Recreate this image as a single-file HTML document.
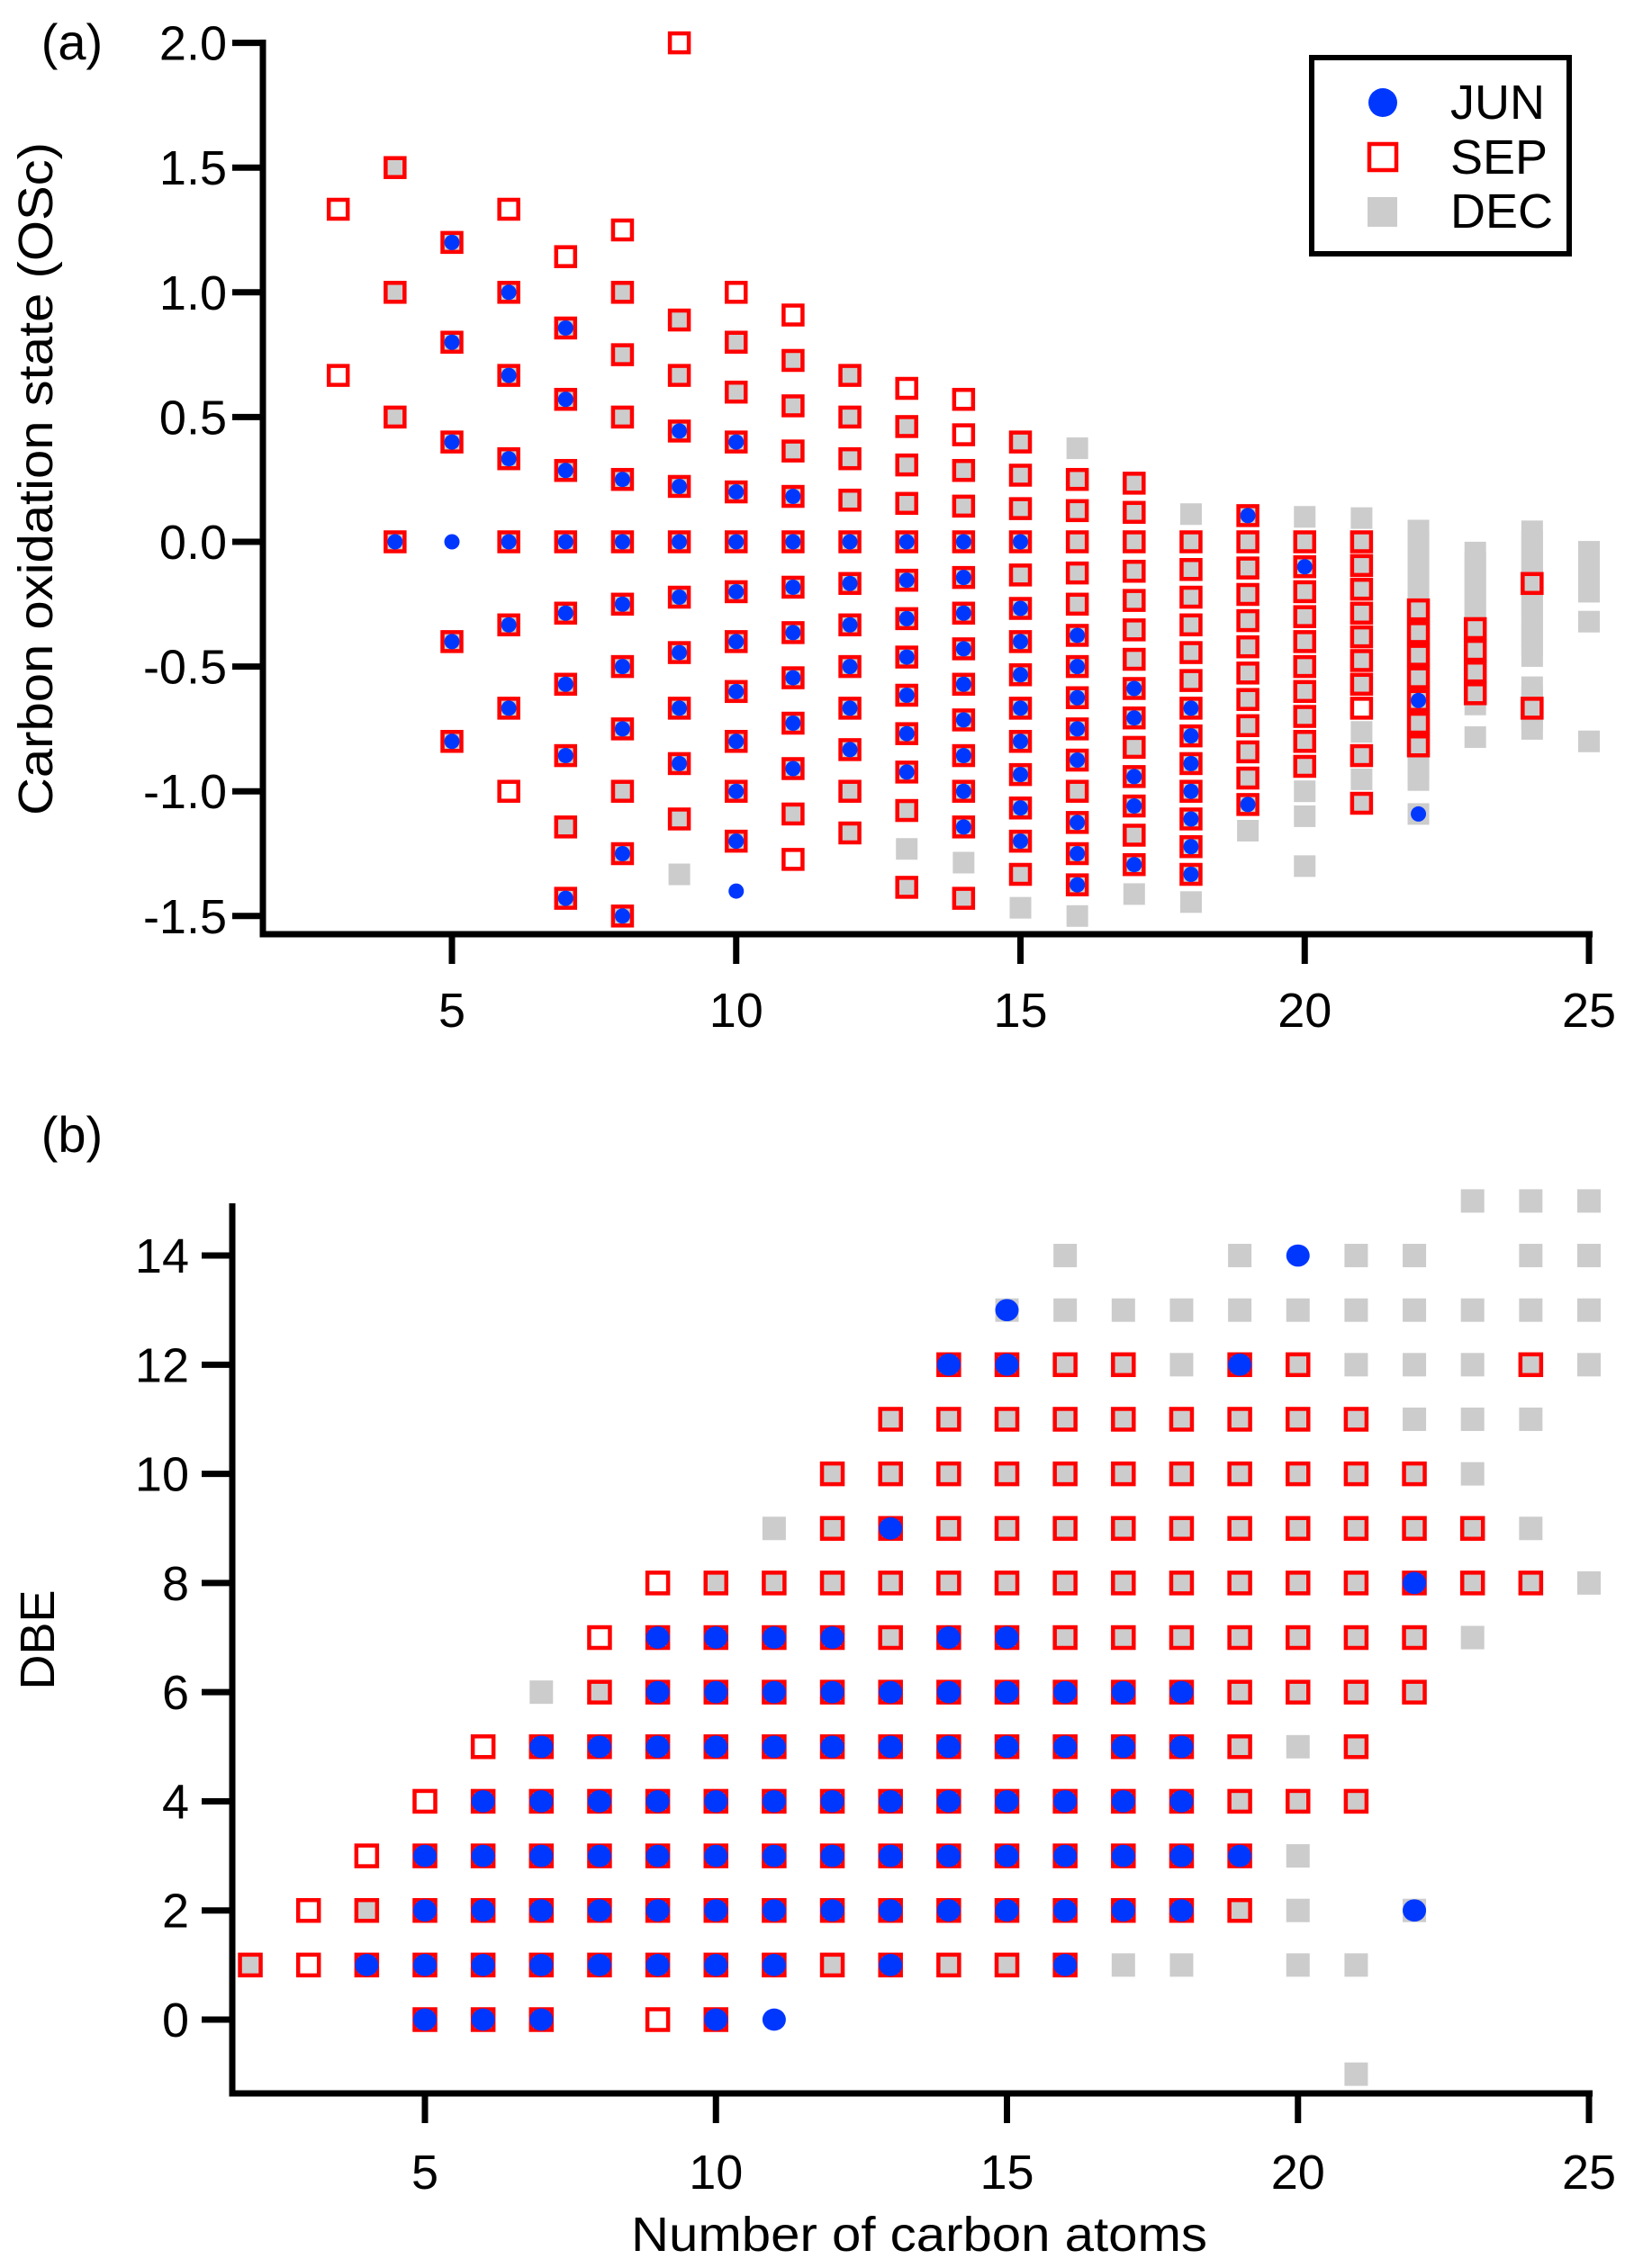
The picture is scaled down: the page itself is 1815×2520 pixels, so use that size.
<!DOCTYPE html>
<html><head><meta charset="utf-8"><style>
html,body{margin:0;padding:0;background:#fff}
svg{display:block}
text{font-family:"Liberation Sans",Arial,sans-serif;fill:#000}
</style></head><body>
<svg id="chart" xmlns="http://www.w3.org/2000/svg" width="1815" height="2520" viewBox="0 0 1815 2520">
<g id="pa"></g>
<g id="pb"></g>
</svg>
<script>
// ---------- Panel (a) data: [carbon number, OSc] ----------
const junA = [[4,0],
[5,1.2],[5,.8],[5,.4],[5,0],[5,-.4],[5,-.8],
[6,1],[6,.667],[6,.333],[6,0],[6,-.333],[6,-.667],
[7,.857],[7,.571],[7,.286],[7,0],[7,-.286],[7,-.571],[7,-.857],[7,-1.429],
[8,.25],[8,0],[8,-.25],[8,-.5],[8,-.75],[8,-1.25],[8,-1.5],
[9,.444],[9,.222],[9,0],[9,-.222],[9,-.444],[9,-.667],[9,-.889],
[10,.4],[10,.2],[10,0],[10,-.2],[10,-.4],[10,-.6],[10,-.8],[10,-1],[10,-1.2],[10,-1.4],
[11,.182],[11,0],[11,-.182],[11,-.364],[11,-.545],[11,-.727],[11,-.909],
[12,0],[12,-.167],[12,-.333],[12,-.5],[12,-.667],[12,-.833],
[13,0],[13,-.154],[13,-.308],[13,-.462],[13,-.615],[13,-.769],[13,-.923],
[14,0],[14,-.143],[14,-.286],[14,-.429],[14,-.571],[14,-.714],[14,-.857],[14,-1],[14,-1.143],
[15,0],[15,-.267],[15,-.4],[15,-.533],[15,-.667],[15,-.8],[15,-.933],[15,-1.067],[15,-1.2],
[16,-.375],[16,-.5],[16,-.625],[16,-.75],[16,-.875],[16,-1.125],[16,-1.25],[16,-1.375],
[17,-.588],[17,-.706],[17,-.941],[17,-1.059],[17,-1.294],
[18,-.667],[18,-.778],[18,-.889],[18,-1],[18,-1.111],[18,-1.222],[18,-1.333],
[19,.105],[19,-1.053],[20,-.1],[22,-.636],[22,-1.091]];
const sepA = [[3,1.333],[3,.667],
[4,1.5],[4,1],[4,.5],[4,0],
[5,1.2],[5,.8],[5,.4],[5,-.4],[5,-.8],
[6,1.333],[6,1],[6,.667],[6,.333],[6,0],[6,-.333],[6,-.667],[6,-1],
[7,1.143],[7,.857],[7,.571],[7,.286],[7,0],[7,-.286],[7,-.571],[7,-.857],[7,-1.143],[7,-1.429],
[8,1.25],[8,1],[8,.75],[8,.5],[8,.25],[8,0],[8,-.25],[8,-.5],[8,-.75],[8,-1],[8,-1.25],[8,-1.5],
[9,2],[9,.889],[9,.667],[9,.444],[9,.222],[9,0],[9,-.222],[9,-.444],[9,-.667],[9,-.889],[9,-1.111],
[10,1],[10,.8],[10,.6],[10,.4],[10,.2],[10,0],[10,-.2],[10,-.4],[10,-.6],[10,-.8],[10,-1],[10,-1.2],
[11,.909],[11,.727],[11,.545],[11,.364],[11,.182],[11,0],[11,-.182],[11,-.364],[11,-.545],[11,-.727],[11,-.909],[11,-1.091],[11,-1.273],
[12,.667],[12,.5],[12,.333],[12,.167],[12,0],[12,-.167],[12,-.333],[12,-.5],[12,-.667],[12,-.833],[12,-1],[12,-1.167],
[13,.615],[13,.462],[13,.308],[13,.154],[13,0],[13,-.154],[13,-.308],[13,-.462],[13,-.615],[13,-.769],[13,-.923],[13,-1.077],[13,-1.385],
[14,.571],[14,.429],[14,.286],[14,.143],[14,0],[14,-.143],[14,-.286],[14,-.429],[14,-.571],[14,-.714],[14,-.857],[14,-1],[14,-1.143],[14,-1.429],
[15,.4],[15,.267],[15,.133],[15,0],[15,-.133],[15,-.267],[15,-.4],[15,-.533],[15,-.667],[15,-.8],[15,-.933],[15,-1.067],[15,-1.2],[15,-1.333],
[16,.25],[16,.125],[16,0],[16,-.125],[16,-.25],[16,-.375],[16,-.5],[16,-.625],[16,-.75],[16,-.875],[16,-1],[16,-1.125],[16,-1.25],[16,-1.375],
[17,.235],[17,.118],[17,0],[17,-.118],[17,-.235],[17,-.353],[17,-.471],[17,-.588],[17,-.706],[17,-.824],[17,-.941],[17,-1.059],[17,-1.176],[17,-1.294],
[18,0],[18,-.111],[18,-.222],[18,-.333],[18,-.444],[18,-.556],[18,-.667],[18,-.778],[18,-.889],[18,-1],[18,-1.111],[18,-1.222],[18,-1.333],
[19,.105],[19,0],[19,-.105],[19,-.211],[19,-.316],[19,-.421],[19,-.526],[19,-.632],[19,-.737],[19,-.842],[19,-.947],[19,-1.053],
[20,0],[20,-.1],[20,-.2],[20,-.3],[20,-.4],[20,-.5],[20,-.6],[20,-.7],[20,-.8],[20,-.9],
[21,0],[21,-.095],[21,-.19],[21,-.286],[21,-.381],[21,-.476],[21,-.571],[21,-.667],[21,-.857],[21,-1.048],
[22,-.273],[22,-.364],[22,-.455],[22,-.545],[22,-.636],[22,-.727],[22,-.818],
[23,-.348],[23,-.435],[23,-.522],[23,-.609],
[24,-.167],[24,-.667]];
const decA = [[4,1.5],[4,1],[4,.5],[4,0],
[5,1.2],[5,.8],[5,.4],[5,-.4],[5,-.8],
[6,1],[6,.667],[6,.333],[6,0],[6,-.333],[6,-.667],
[7,.857],[7,.571],[7,.286],[7,0],[7,-.286],[7,-.571],[7,-.857],[7,-1.143],[7,-1.429],
[8,1],[8,.75],[8,.5],[8,.25],[8,0],[8,-.25],[8,-.5],[8,-.75],[8,-1],[8,-1.25],[8,-1.5],
[9,.889],[9,.667],[9,.444],[9,.222],[9,0],[9,-.222],[9,-.444],[9,-.667],[9,-.889],[9,-1.111],[9,-1.333],
[10,.8],[10,.6],[10,.4],[10,.2],[10,0],[10,-.2],[10,-.4],[10,-.6],[10,-.8],[10,-1],[10,-1.2],
[11,.727],[11,.545],[11,.364],[11,.182],[11,0],[11,-.182],[11,-.364],[11,-.545],[11,-.727],[11,-.909],[11,-1.091],
[12,.667],[12,.5],[12,.333],[12,.167],[12,0],[12,-.167],[12,-.333],[12,-.5],[12,-.667],[12,-.833],[12,-1],[12,-1.167],
[13,.462],[13,.308],[13,.154],[13,0],[13,-.154],[13,-.308],[13,-.462],[13,-.615],[13,-.769],[13,-.923],[13,-1.077],[13,-1.231],[13,-1.385],
[14,.286],[14,.143],[14,0],[14,-.143],[14,-.286],[14,-.429],[14,-.571],[14,-.714],[14,-.857],[14,-1],[14,-1.143],[14,-1.286],[14,-1.429],
[15,.4],[15,.267],[15,.133],[15,0],[15,-.133],[15,-.267],[15,-.4],[15,-.533],[15,-.667],[15,-.8],[15,-.933],[15,-1.067],[15,-1.2],[15,-1.333],[15,-1.467],
[16,.375],[16,.25],[16,.125],[16,0],[16,-.125],[16,-.25],[16,-.375],[16,-.5],[16,-.625],[16,-.75],[16,-.875],[16,-1],[16,-1.125],[16,-1.25],[16,-1.375],[16,-1.5],
[17,.235],[17,.118],[17,0],[17,-.118],[17,-.235],[17,-.353],[17,-.471],[17,-.588],[17,-.706],[17,-.824],[17,-.941],[17,-1.059],[17,-1.176],[17,-1.294],[17,-1.412],
[18,.111],[18,0],[18,-.111],[18,-.222],[18,-.333],[18,-.444],[18,-.556],[18,-.667],[18,-.778],[18,-.889],[18,-1],[18,-1.111],[18,-1.222],[18,-1.333],[18,-1.444],
[19,.105],[19,0],[19,-.105],[19,-.211],[19,-.316],[19,-.421],[19,-.526],[19,-.632],[19,-.737],[19,-.842],[19,-.947],[19,-1.053],[19,-1.158],
[20,.1],[20,0],[20,-.1],[20,-.2],[20,-.3],[20,-.4],[20,-.5],[20,-.6],[20,-.7],[20,-.8],[20,-.9],[20,-1],[20,-1.1],[20,-1.3],
[21,.095],[21,0],[21,-.095],[21,-.19],[21,-.286],[21,-.381],[21,-.476],[21,-.571],[21,-.762],[21,-.857],[21,-.952],[21,-1.048],
[22,.045],[22,0],[22,-.045],[22,-.091],[22,-.136],[22,-.182],[22,-.227],[22,-.273],[22,-.318],[22,-.364],[22,-.409],[22,-.455],[22,-.5],[22,-.545],[22,-.591],[22,-.636],[22,-.682],[22,-.727],[22,-.773],[22,-.818],[22,-.864],[22,-.909],[22,-.955],[22,-1.091],
[23,-.043],[23,-.087],[23,-.13],[23,-.174],[23,-.217],[23,-.261],[23,-.304],[23,-.348],[23,-.391],[23,-.435],[23,-.478],[23,-.522],[23,-.565],[23,-.609],[23,-.652],[23,-.783],
[24,.042],[24,0],[24,-.042],[24,-.083],[24,-.125],[24,-.208],[24,-.25],[24,-.292],[24,-.333],[24,-.375],[24,-.417],[24,-.458],[24,-.583],[24,-.625],[24,-.667],[24,-.708],[24,-.75],
[25,-.04],[25,-.08],[25,-.12],[25,-.16],[25,-.2],[25,-.32],[25,-.8]];
const xTicksA = [5,10,15,20,25];
const yTicksA = [2.0,1.5,1.0,0.5,0.0,-0.5,-1.0,-1.5];

// ---------- Panel (b) data: [carbon number, DBE] ----------
const junB = [[4,1],[5,3],[5,2],[5,1],[5,0],[6,4],[6,3],[6,2],[6,1],[6,0],
[7,5],[7,4],[7,3],[7,2],[7,1],[7,0],[8,5],[8,4],[8,3],[8,2],[8,1],
[9,7],[9,6],[9,5],[9,4],[9,3],[9,2],[9,1],
[10,7],[10,6],[10,5],[10,4],[10,3],[10,2],[10,1],[10,0],
[11,7],[11,6],[11,5],[11,4],[11,3],[11,2],[11,1],[11,0],
[12,7],[12,6],[12,5],[12,4],[12,3],[12,2],
[13,9],[13,6],[13,5],[13,4],[13,3],[13,2],[13,1],
[14,12],[14,7],[14,6],[14,5],[14,4],[14,3],[14,2],
[15,13],[15,12],[15,7],[15,6],[15,5],[15,4],[15,3],[15,2],
[16,6],[16,5],[16,4],[16,3],[16,2],[16,1],
[17,6],[17,5],[17,4],[17,3],[17,2],[18,6],[18,5],[18,4],[18,3],[18,2],
[19,12],[19,3],[20,14],[22,8],[22,2]];
const sepB = [[2,1],[3,2],[3,1],[4,3],[4,2],[4,1],
[5,4],[5,3],[5,2],[5,1],[5,0],[6,5],[6,4],[6,3],[6,2],[6,1],[6,0],
[7,5],[7,4],[7,3],[7,2],[7,1],[7,0],[8,7],[8,6],[8,5],[8,4],[8,3],[8,2],[8,1],
[9,8],[9,7],[9,6],[9,5],[9,4],[9,3],[9,2],[9,1],[9,0],
[10,8],[10,7],[10,6],[10,5],[10,4],[10,3],[10,2],[10,1],[10,0],
[11,8],[11,7],[11,6],[11,5],[11,4],[11,3],[11,2],[11,1],
[12,10],[12,9],[12,8],[12,7],[12,6],[12,5],[12,4],[12,3],[12,2],[12,1],
[13,11],[13,10],[13,9],[13,8],[13,7],[13,6],[13,5],[13,4],[13,3],[13,2],[13,1],
[14,12],[14,11],[14,10],[14,9],[14,8],[14,7],[14,6],[14,5],[14,4],[14,3],[14,2],[14,1],
[15,12],[15,11],[15,10],[15,9],[15,8],[15,7],[15,6],[15,5],[15,4],[15,3],[15,2],[15,1],
[16,12],[16,11],[16,10],[16,9],[16,8],[16,7],[16,6],[16,5],[16,4],[16,3],[16,2],[16,1],
[17,12],[17,11],[17,10],[17,9],[17,8],[17,7],[17,6],[17,5],[17,4],[17,3],[17,2],
[18,11],[18,10],[18,9],[18,8],[18,7],[18,6],[18,5],[18,4],[18,3],[18,2],
[19,12],[19,11],[19,10],[19,9],[19,8],[19,7],[19,6],[19,5],[19,4],[19,3],[19,2],
[20,12],[20,11],[20,10],[20,9],[20,8],[20,7],[20,6],[20,4],
[21,11],[21,10],[21,9],[21,8],[21,7],[21,6],[21,5],[21,4],
[22,10],[22,9],[22,8],[22,7],[22,6],[23,9],[23,8],[24,12],[24,8]];
const decB = [[2,1],[4,2],[7,6],[8,6],[10,8],[11,9],[11,8],[12,10],[12,9],[12,8],[12,1],
[13,11],[13,10],[13,8],[13,7],[14,11],[14,10],[14,9],[14,8],[14,1],
[15,13],[15,11],[15,10],[15,9],[15,8],[15,1],
[16,14],[16,13],[16,12],[16,11],[16,10],[16,9],[16,8],[16,7],
[17,13],[17,12],[17,11],[17,10],[17,9],[17,8],[17,7],[17,1],
[18,13],[18,12],[18,11],[18,10],[18,9],[18,8],[18,7],[18,1],
[19,14],[19,13],[19,11],[19,10],[19,9],[19,8],[19,7],[19,6],[19,5],[19,4],[19,2],
[20,13],[20,12],[20,11],[20,10],[20,9],[20,8],[20,7],[20,6],[20,5],[20,4],[20,3],[20,2],[20,1],
[21,14],[21,13],[21,12],[21,11],[21,10],[21,9],[21,8],[21,7],[21,6],[21,5],[21,4],[21,1],[21,-1],
[22,14],[22,13],[22,12],[22,11],[22,10],[22,9],[22,7],[22,6],[22,2],
[23,15],[23,13],[23,12],[23,11],[23,10],[23,9],[23,8],[23,7],
[24,15],[24,14],[24,13],[24,12],[24,11],[24,9],[24,8],
[25,15],[25,14],[25,13],[25,12],[25,8]];
const xTicksB = [5,10,15,20,25];
const yTicksB = [0,2,4,6,8,10,12,14];

const NS = "http://www.w3.org/2000/svg";
function mk(parent, tag, attrs, txt){
  const e = document.createElementNS(NS, tag);
  for (const k in attrs) e.setAttribute(k, attrs[k]);
  if (txt !== undefined) e.textContent = txt;
  parent.appendChild(e); return e;
}
const BLUE="#0037ff", RED="#ff0000", GRAY="#cccccc";

const xA = c => 502 + (c - 5) * 63.15;
const yA = v => 602 - 277.2 * v;
const xB = c => 472 + (c - 5) * 64.65;
const yB = d => 2244 - 60.64 * d;

function drawPanel(g, xs, ys, o){
  // axes
  const ax = mk(g,'path',{d:`M${o.axX},${o.axTop} V${o.axBot} H${o.axRight}`,fill:'none',stroke:'#000','stroke-width':7});
  
  
  o.yTicks.forEach(t=>{
    const y = ys(t);
    const tk = mk(g,'line',{x1:o.axX-34,x2:o.axX,y1:y,y2:y,stroke:'#000','stroke-width':7});
    
    
    const lb = mk(g,'text',{x:o.yLabX,y:y+19,'text-anchor':'end','font-size':54}, o.fmtY(t));
    
    
  });
  o.xTicks.forEach(t=>{
    const x = xs(t);
    const tk = mk(g,'line',{x1:x,x2:x,y1:o.axBot,y2:o.axBot+33,stroke:'#000','stroke-width':7});
    
    
    const lb = mk(g,'text',{x:x,y:o.xLabY,'text-anchor':'middle','font-size':54}, String(t));
    
    
  });
  // DEC
  o.dec.forEach(p=>{
    const s=o.gs;
    const r = mk(g,'rect',{x:xs(p[0])-s/2,y:ys(p[1])-s/2,width:s,height:s,fill:GRAY});
    
    
  });
  // SEP
  o.sep.forEach(p=>{
    const s=o.rs;
    const r = mk(g,'rect',{x:xs(p[0])-s/2,y:ys(p[1])-s/2,width:s,height:s,fill:'none',stroke:RED,'stroke-width':4.5});
    
    
  });
  // JUN
  o.jun.forEach(p=>{
    const c = mk(g,'ellipse',{cx:xs(p[0]),cy:ys(p[1]),rx:o.jr,ry:o.jr*o.jry,fill:BLUE});
    
    
  });
}

const pa = document.getElementById('pa');
drawPanel(pa, xA, yA, {axX:292, axTop:44, axBot:1038, axRight:1769, yTicks:yTicksA, xTicks:xTicksA,
  yLabX:252, xLabY:1141, fmtY:t=>(t<0?'-':'')+Math.abs(t).toFixed(1),
  dec:decA, sep:sepA, jun:junA, gs:24, rs:21, jr:8.5, jry:1});
const pb = document.getElementById('pb');
drawPanel(pb, xB, yB, {axX:258, axTop:1337, axBot:2326, axRight:1769, yTicks:yTicksB, xTicks:xTicksB,
  yLabX:210, xLabY:2432, fmtY:t=>String(t),
  dec:decB, sep:sepB, jun:junB, gs:26, rs:23, jr:13, jry:0.95});

// Titles and labels
let t;
t = mk(pa,'text',{x:80,y:66,'text-anchor':'middle','font-size':56},'(a)');


t = mk(pa,'text',{x:0,y:0,'text-anchor':'middle','font-size':54,transform:'translate(58,532) rotate(-90)',textLength:748,lengthAdjust:'spacingAndGlyphs'},'Carbon oxidation state (OSc)');


t = mk(pb,'text',{x:80,y:1280,'text-anchor':'middle','font-size':56},'(b)');


t = mk(pb,'text',{x:0,y:0,'text-anchor':'middle','font-size':54,transform:'translate(60,1822) rotate(-90)'},'DBE');


t = mk(pb,'text',{x:1021,y:2501,'text-anchor':'middle','font-size':54,textLength:640,lengthAdjust:'spacingAndGlyphs'},'Number of carbon atoms');



// Legend
const lg = mk(pa,'g',{});


mk(lg,'rect',{x:1457,y:64,width:286,height:218,fill:'#fff',stroke:'#000','stroke-width':6});
let e;
e = mk(lg,'circle',{cx:1536,cy:114,r:16,fill:BLUE});


e = mk(lg,'text',{x:1611,y:132,'font-size':54},'JUN');


e = mk(lg,'rect',{x:1521,y:160,width:30,height:29,fill:'none',stroke:RED,'stroke-width':4.5});


e = mk(lg,'text',{x:1611,y:193,'font-size':54},'SEP');


e = mk(lg,'rect',{x:1519,y:219,width:33,height:33,fill:GRAY});


e = mk(lg,'text',{x:1611,y:253,'font-size':54},'DEC');


</script>
</body></html>
